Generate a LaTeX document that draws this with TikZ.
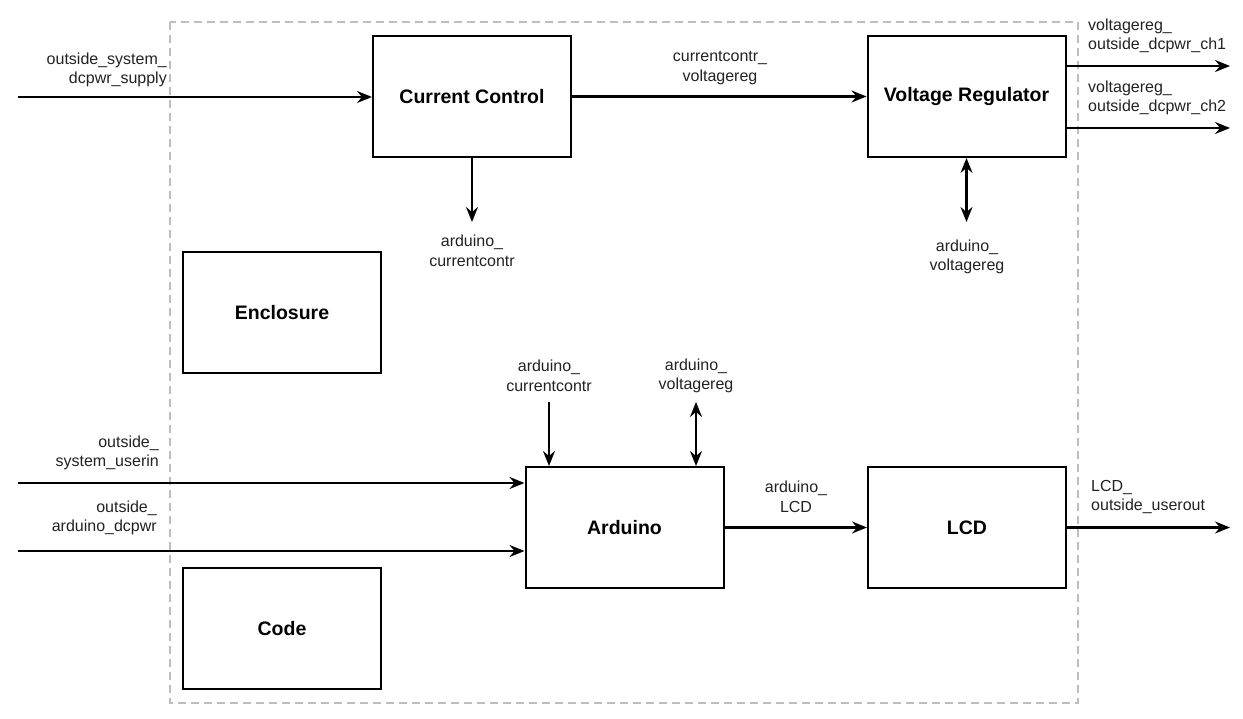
\documentclass[tikz,border=0pt]{standalone}
\usepackage{fontspec}
\setmainfont{Liberation Sans}
\usetikzlibrary{arrows.meta}
\definecolor{framegray}{RGB}{190,190,190}
\definecolor{lbltext}{RGB}{34,34,34}
\tikzset{
  blk/.style={draw=black, line width=2pt, fill=white, minimum width=198pt, minimum height=121pt, inner sep=0pt,
    font=\fontsize{19.5}{23}\selectfont\bfseries},
  lbl/.style={inner sep=0pt, font=\fontsize{16}{19.5}\selectfont, text=lbltext},
  arr/.style={line width=2.2pt, -{Stealth[length=15pt,width=12pt,inset=5pt]}},
  arrtwo/.style={line width=2.2pt, {Stealth[length=15pt,width=12pt,inset=5pt]}-{Stealth[length=15pt,width=12pt,inset=5pt]}},
  frame/.style={draw=framegray, line width=1.5pt, dash pattern=on 8pt off 5pt}
}
\begin{document}
\begin{tikzpicture}[x=1pt, y=-1pt]
\useasboundingbox (0,0) rectangle (1243,719);
\draw[frame] (170,22) rectangle (1078,703);

% blocks
\node[blk] (CC)  at (472,96.5)  {Current Control};
\node[blk] (VR)  at (966.5,96.5) {Voltage Regulator};
\node[blk] (ENC) at (282,312.5) {Enclosure};
\node[blk] (CODE) at (282,628.5) {Code};
\node[blk] (ARD) at (624.5,527.5) {Arduino};
\node[blk] (LCD) at (967,527.5) {LCD};

% free ends
\coordinate (inCC) at (18,97);
\coordinate (ccDown) at (472,222);
\coordinate (vrDown) at (966.5,222);
\coordinate (out1) at (1230,66);
\coordinate (out2) at (1230,128);
\coordinate (inU) at (18,483);
\coordinate (inP) at (18,551);
\coordinate (ardA) at (549,402);
\coordinate (ardB) at (696,402);
\coordinate (outL) at (1230,527.5);

% connectors
\draw[arr] (inCC) -- (inCC -| CC.west);
\draw[arr] (CC.east) -- (VR.west);
\draw[arr] (CC.south) -- (ccDown);
\draw[arrtwo] (VR.south) -- (vrDown);
\draw[arr] (out1 -| VR.east) -- (out1);
\draw[arr] (out2 -| VR.east) -- (out2);
\draw[arr] (inU) -- (inU -| ARD.west);
\draw[arr] (inP) -- (inP -| ARD.west);
\draw[arr] (ardA) -- (ardA |- ARD.north);
\draw[arrtwo] (ardB) -- (ardB |- ARD.north);
\draw[arr] (ARD.east) -- (LCD.west);
\draw[arr] (LCD.east) -- (outL);

% labels
\node[lbl, anchor=east, align=right] (l1) at (167,70) {outside\_system\_\\dcpwr\_supply};
\node[lbl, align=center] (l2) at (720,68) {currentcontr\_\\voltagereg};
\node[lbl, align=center] (l3) at (472,251) {arduino\_\\currentcontr};
\node[lbl, align=center] (l4) at (967,257) {arduino\_\\voltagereg};
\node[lbl, anchor=west, align=left] (l5) at (1088,36) {voltagereg\_\\outside\_dcpwr\_ch1};
\node[lbl, anchor=west, align=left] (l6) at (1088,98) {voltagereg\_\\outside\_dcpwr\_ch2};
\node[lbl, anchor=east, align=right] (l7) at (159,453) {outside\_\\system\_userin};
\node[lbl, anchor=east, align=right] (l8) at (157,518) {outside\_\\arduino\_dcpwr};
\node[lbl, align=center] (l9) at (549,376) {arduino\_\\currentcontr};
\node[lbl, align=center] (l10) at (696,376) {arduino\_\\voltagereg};
\node[lbl, align=center] (l11) at (796,497) {arduino\_\\LCD};
\node[lbl, anchor=west, align=left] (l12) at (1091,497) {LCD\_\\outside\_userout};
\end{tikzpicture}
\end{document}
